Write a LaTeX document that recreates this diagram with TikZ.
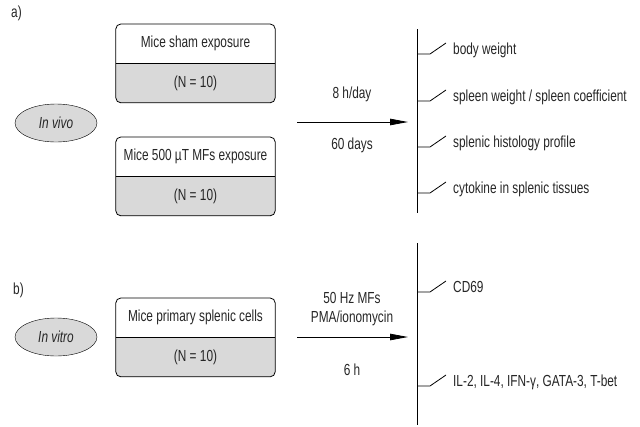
\documentclass[tikz,border=0pt]{standalone}
\usepackage{fontspec}
\setmainfont[FakeStretch=0.74]{Liberation Sans}
\usetikzlibrary{shapes.geometric,arrows.meta}
\definecolor{boxgray}{HTML}{D9D9D9}
\tikzset{
  every node/.style={font=\fontsize{16}{18}\selectfont, text=black!85},
  half/.style={minimum width=159pt, minimum height=39pt, inner sep=0pt, anchor=north},
  oval/.style={ellipse, draw, fill=boxgray, minimum width=82pt, minimum height=38pt, inner sep=0pt, font=\fontsize{16}{18}\selectfont\itshape},
  lbl/.style={anchor=west, inner sep=0pt},
  mid/.style={inner sep=0pt},
  conn/.style={draw, line width=0.8pt},
  arr/.style={draw, line width=0.8pt, -{Triangle[length=18pt,width=6.5pt]}},
}
\newcommand{\splitframe}[2]{%
  \fill[boxgray] (#2.north west) [rounded corners=5pt] -- (#2.south west) -- (#2.south east) [sharp corners] -- (#2.north east) -- cycle;
  \draw[line width=0.8pt, rounded corners=5pt] (#1.north west) rectangle (#2.south east);
  \draw[line width=0.8pt] (#2.north west) -- (#2.north east);
}
\begin{document}
\begin{tikzpicture}[x=1pt,y=-1pt]
\useasboundingbox (0,0) rectangle (640,426);
% ---------- a) ----------
\node[anchor=west, inner sep=0pt] (la) at (11,13) {a)};
\coordinate (t1) at (195.5,24);
\node[half] (shamT) at (t1) {Mice sham exposure};
\node[half] (shamB) at (shamT.south) {};
\splitframe{shamT}{shamB}
\node at (shamB.center) (shamN) {(N = 10)};
\coordinate (t2) at (195.5,137);
\node[half] (mfT) at (t2) {Mice 500 µT MFs exposure};
\node[half] (mfB) at (mfT.south) {};
\splitframe{mfT}{mfB}
\node at (mfB.center) (mfN) {(N = 10)};
\node[oval] (vivo) at (56,123) {In vivo};
\coordinate (a1s) at (297,122);
\coordinate (a1e) at (408,122);
\path[arr] (a1s) -- (a1e);
\node[mid] (l8h) at (352,94) {8 h/day};
\node[mid] (l60) at (352,145) {60 days};
\coordinate (v1t) at (417,29);
\coordinate (v1b) at (417,213);
\path[conn] (v1t) -- (v1b);
\foreach \yt/\yl/\txt/\nm in {54/50/{body weight}/o1, 101/97/{spleen weight / spleen coefficient}/o2, 147/143/{splenic histology profile}/o3, 193/189/{cytokine in splenic tissues}/o4}{
  \coordinate (\nm a) at (417,\yt);
  \coordinate (\nm b) at (430,\yt);
  \coordinate (\nm c) at (446,\yt-11);
  \path[conn] (\nm a) -- (\nm b) -- (\nm c);
  \node[lbl] (\nm) at (453,\yl) {\txt};
}
% ---------- b) ----------
\node[anchor=west, inner sep=0pt] (lb) at (13,290) {b)};
\coordinate (t3) at (195.5,298);
\node[half] (cellT) at (t3) {Mice primary splenic cells};
\node[half] (cellB) at (cellT.south) {};
\splitframe{cellT}{cellB}
\node at (cellB.center) (cellN) {(N = 10)};
\node[oval] (vitro) at (56,337) {In vitro};
\coordinate (a2s) at (297,337);
\coordinate (a2e) at (408,337);
\path[arr] (a2s) -- (a2e);
\node[mid] (l50) at (352,298) {50 Hz MFs};
\node[mid] (lpma) at (352,318) {PMA/ionomycin};
\node[mid] (l6h) at (352,370) {6 h};
\coordinate (v2t) at (417,243);
\coordinate (v2b) at (417,425);
\path[conn] (v2t) -- (v2b);
\foreach \yt/\yl/\txt/\nm in {292/287/{CD69}/p1, 386/382/{IL-2, IL-4, IFN-γ, GATA-3, T-bet}/p2}{
  \coordinate (\nm a) at (417,\yt);
  \coordinate (\nm b) at (430,\yt);
  \coordinate (\nm c) at (446,\yt-11);
  \path[conn] (\nm a) -- (\nm b) -- (\nm c);
  \node[lbl] (\nm) at (453,\yl) {\txt};
}
\end{tikzpicture}
\end{document}
